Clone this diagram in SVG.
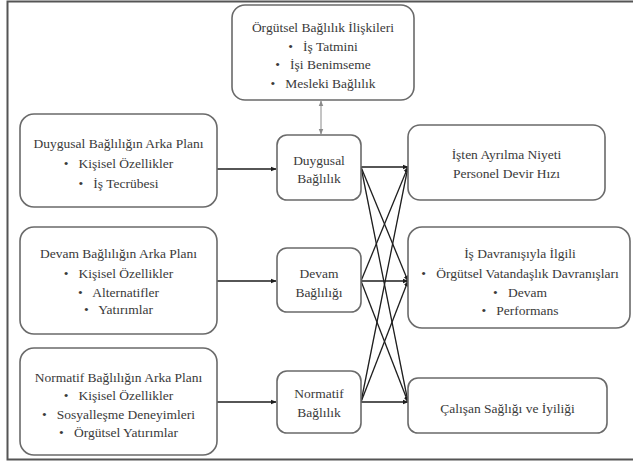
<svg xmlns="http://www.w3.org/2000/svg" width="633" height="464" viewBox="0 0 633 464">
<defs>
<style>
.box{fill:#fff;stroke:#6a6a6a;stroke-width:1.6}
.t{font-family:'Liberation Serif','Times New Roman',Times,serif;font-size:13.5px;fill:#3a3a3a;text-anchor:middle;white-space:pre}
.c{stroke:#1e1e1e;stroke-width:1.3;fill:none}
.thin{stroke:#8a8a8a;stroke-width:1;fill:none}
</style>
<marker id="ah" viewBox="0 0 10 10" refX="9" refY="5" markerWidth="6" markerHeight="6" orient="auto-start-reverse" markerUnits="userSpaceOnUse">
<path d="M0,1 L10,5 L0,9 z" fill="#1e1e1e"/>
</marker>
<marker id="ahg" viewBox="0 0 10 10" refX="9" refY="5" markerWidth="6" markerHeight="6" orient="auto-start-reverse" markerUnits="userSpaceOnUse">
<path d="M0,1 L10,5 L0,9 z" fill="#8a8a8a"/>
</marker>
</defs>
<rect width="633" height="464" fill="#fff"/>
<path d="M634,1.5 H7.5 V459.5 H634" fill="none" stroke="#555" stroke-width="2"/>

<g id="connectors">
<line class="thin" x1="321" y1="101" x2="321" y2="134" marker-start="url(#ahg)" marker-end="url(#ahg)"/>
<line class="c" x1="217" y1="169" x2="276" y2="169" marker-end="url(#ah)"/>
<line class="c" x1="217" y1="281" x2="276" y2="281" marker-end="url(#ah)"/>
<line class="c" x1="217" y1="402" x2="276" y2="402" marker-end="url(#ah)"/>
<line class="c" x1="361" y1="167" x2="408" y2="167" marker-end="url(#ah)"/>
<line class="c" x1="361" y1="167" x2="408" y2="281" marker-end="url(#ah)"/>
<line class="c" x1="361" y1="167" x2="408" y2="402" marker-end="url(#ah)"/>
<line class="c" x1="361" y1="281" x2="408" y2="167" marker-end="url(#ah)"/>
<line class="c" x1="361" y1="281" x2="408" y2="281" marker-end="url(#ah)"/>
<line class="c" x1="361" y1="281" x2="408" y2="402" marker-end="url(#ah)"/>
<line class="c" x1="361" y1="402" x2="408" y2="167" marker-end="url(#ah)"/>
<line class="c" x1="361" y1="402" x2="408" y2="281" marker-end="url(#ah)"/>
<line class="c" x1="361" y1="402" x2="408" y2="402" marker-end="url(#ah)"/>
</g>

<g id="orgutsel-iliskiler">
<rect class="box" x="232" y="5" width="182" height="95" rx="13"/>
<text class="t" x="323" y="32">Örgütsel Bağlılık İlişkileri</text>
<text class="t" x="323" y="50.5">•   İş Tatmini</text>
<text class="t" x="323" y="69">•   İşi Benimseme</text>
<text class="t" x="323" y="87.5">•   Mesleki Bağlılık</text>
</g>

<g id="duygusal-arka-plan">
<rect class="box" x="20" y="114" width="197" height="93" rx="14"/>
<text class="t" x="118.5" y="148">Duygusal Bağlılığın Arka Planı</text>
<text class="t" x="118.5" y="168">•   Kişisel Özellikler</text>
<text class="t" x="118.5" y="188">•   İş Tecrübesi</text>
</g>

<g id="devam-arka-plan">
<rect class="box" x="20" y="227" width="197" height="107" rx="14"/>
<text class="t" x="118.5" y="258">Devam Bağlılığın Arka Planı</text>
<text class="t" x="118.5" y="277.5">•   Kişisel Özellikler</text>
<text class="t" x="118.5" y="296.5">•   Alternatifler</text>
<text class="t" x="118.5" y="314">•   Yatırımlar</text>
</g>

<g id="normatif-arka-plan">
<rect class="box" x="20" y="348" width="197" height="107" rx="14"/>
<text class="t" x="118.5" y="381.5">Normatif Bağlılığın Arka Planı</text>
<text class="t" x="118.5" y="400">•   Kişisel Özellikler</text>
<text class="t" x="118.5" y="418.5">•   Sosyalleşme Deneyimleri</text>
<text class="t" x="118.5" y="436.5">•   Örgütsel Yatırımlar</text>
</g>

<g id="duygusal-baglilik">
<rect class="box" x="277" y="135" width="84" height="65" rx="10"/>
<text class="t" x="319" y="165">Duygusal</text>
<text class="t" x="319" y="183">Bağlılık</text>
</g>

<g id="devam-bagliligi">
<rect class="box" x="277" y="248" width="84" height="64" rx="10"/>
<text class="t" x="319" y="278">Devam</text>
<text class="t" x="319" y="297">Bağlılığı</text>
</g>

<g id="normatif-baglilik">
<rect class="box" x="277" y="371" width="84" height="62" rx="10"/>
<text class="t" x="319" y="398">Normatif</text>
<text class="t" x="319" y="417">Bağlılık</text>
</g>

<g id="isten-ayrilma">
<rect class="box" x="408" y="125" width="197" height="75" rx="12"/>
<text class="t" x="506.5" y="159">İşten Ayrılma Niyeti</text>
<text class="t" x="506.5" y="178">Personel Devir Hızı</text>
</g>

<g id="is-davranisi">
<rect class="box" x="408" y="227" width="222" height="101" rx="14"/>
<text class="t" x="520" y="258">İş Davranışıyla İlgili</text>
<text class="t" x="520" y="278">•   Örgütsel Vatandaşlık Davranışları</text>
<text class="t" x="520" y="297">•   Devam</text>
<text class="t" x="520" y="315">•   Performans</text>
</g>

<g id="calisan-sagligi">
<rect class="box" x="408" y="378" width="199" height="55" rx="10"/>
<text class="t" x="507.5" y="413">Çalışan Sağlığı ve İyiliği</text>
</g>
</svg>
